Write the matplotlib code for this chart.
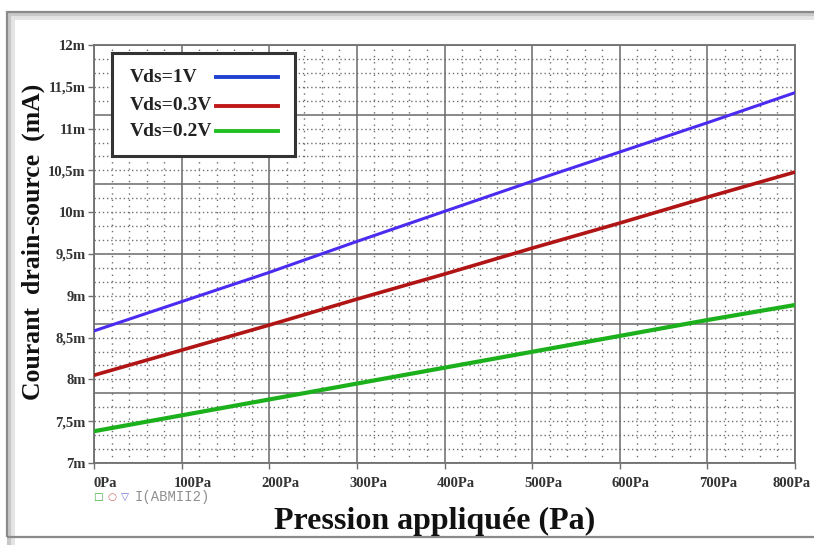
import numpy as np
import matplotlib.pyplot as plt
from matplotlib.patches import Rectangle
from matplotlib.lines import Line2D

# pressure sweep (Pa) and drain-source current (mA) for three Vds values
pression = [0, 100, 200, 300, 400, 500, 600, 700, 800]
i_vds_1v = [8.58, 8.93, 9.28, 9.65, 10.01, 10.37, 10.72, 11.07, 11.43]
i_vds_03v = [8.05, 8.35, 8.65, 8.96, 9.26, 9.57, 9.87, 10.18, 10.48]
i_vds_02v = [7.38, 7.57, 7.76, 7.95, 8.14, 8.33, 8.52, 8.71, 8.89]

y_ticks = [7, 7.5, 8, 8.5, 9, 9.5, 10, 10.5, 11, 11.5, 12]
y_labels = ["7m", "7,5m", "8m", "8,5m", "9m", "9,5m", "10m", "10,5m", "11m", "11,5m", "12m"]
x_ticks = [0, 100, 200, 300, 400, 500, 600, 700, 800]
x_labels = ["0Pa", "100Pa", "200Pa", "300Pa", "400Pa", "500Pa", "600Pa", "700Pa", "800Pa"]

serif = "Liberation Serif"

fig = plt.figure(figsize=(8.14, 5.45), dpi=100)
fig.patch.set_facecolor("white")

# outer frame with a soft shadow
for off, c, lw in [(4, "#e4e4e4", 5), (2, "#c8c8c8", 3)]:
    fig.patches.append(Rectangle((7 / 814 + off / 814, -0.02), 1.0, 1 - 12 / 545 + 0.02 - off / 545,
                                 transform=fig.transFigure, fill=False, edgecolor=c, lw=lw))
fig.patches.append(Rectangle((7 / 814, 8 / 545), 1.0, 1 - 20 / 545,
                             transform=fig.transFigure, fill=False, edgecolor="#8a8a8a", lw=1.6))

ax = fig.add_axes([94 / 814, 82 / 545, 701 / 814, 418 / 545])
ax.set_xlim(0, 800)
ax.set_ylim(7, 12)

# grid: solid major lines, dotted minor lines
for xv in np.arange(0, 801, 20):
    if xv % 100 == 0:
        ax.axvline(xv, color="#6a6a6a", lw=1.1, zorder=1)
    else:
        ax.axvline(xv, color="#6e6e6e", lw=1.0, ls=(0, (1, 3.5)), zorder=1)
h_minor = np.linspace(7, 12, 31)
for k, yv in enumerate(h_minor):
    if k % 5 == 0:
        ax.axhline(yv, color="#6a6a6a", lw=1.1, zorder=1)
    else:
        ax.axhline(yv, color="#6e6e6e", lw=1.0, ls=(0, (1, 2)), zorder=1)

ax.plot(pression, i_vds_1v, color="#4a2cf0", lw=2.2, zorder=3)
ax.plot(pression, i_vds_03v, color="#b01414", lw=2.6, zorder=3)
ax.plot(pression, i_vds_02v, color="#1cb01c", lw=3.0, zorder=3)

for s in ax.spines.values():
    s.set_color("#707070")
    s.set_linewidth(1.3)

ax.set_yticks(y_ticks)
ax.set_yticklabels(y_labels, fontfamily=serif, fontweight="bold", fontsize=10.5, color="#333333")
ax.set_xticks(x_ticks)
ax.set_xticklabels([])
ax.tick_params(axis="y", length=4, width=1, color="#707070", pad=2)
ax.tick_params(axis="x", length=4, width=1, color="#707070")
for xv, lab in zip(x_ticks, x_labels):
    if xv == x_ticks[-1]:
        ax.annotate(lab, xy=(1.0, 0.0), xycoords="axes fraction", xytext=(11, -10),
                    textcoords="offset points", ha="right", va="top", fontfamily=serif,
                    fontweight="bold", fontsize=10.5, color="#333333", annotation_clip=False)
    else:
        ax.annotate(lab, xy=(xv, 7), xycoords="data", xytext=(8, -10), textcoords="offset points",
                    ha="center", va="top", fontfamily=serif, fontweight="bold", fontsize=10.5,
                    color="#333333", annotation_clip=False)

# legend box
leg_ax = fig.add_axes([112 / 814, 1 - 156 / 545, 183 / 814, 103 / 545])
leg_ax.set_xlim(0, 183)
leg_ax.set_ylim(103, 0)
leg_ax.set_xticks([])
leg_ax.set_yticks([])
leg_ax.set_facecolor("white")
for s in leg_ax.spines.values():
    s.set_color("#333333")
    s.set_linewidth(2.2)
legend_entries = [("Vds=1V", "#2040d0", 24), ("Vds=0.3V", "#c01818", 53), ("Vds=0.2V", "#20c020", 78)]
for lab, col, yy in legend_entries:
    leg_ax.text(18, yy, lab, fontfamily=serif, fontweight="bold", fontsize=14,
                color="#222222", va="center", ha="left")
    leg_ax.add_line(Line2D([104, 166], [yy, yy], color=col, lw=2.8))

# trace names under the plot
fig.text(93 / 814, 1 - 497 / 545, "\u25a1", color="#40b040", fontsize=7.5, va="center")
fig.text(107 / 814, 1 - 497 / 545, "\u25cb", color="#d07070", fontsize=7.5, va="center")
fig.text(121 / 814, 1 - 497 / 545, "\u25bd", color="#7070d0", fontsize=7.5, va="center")
fig.text(135 / 814, 1 - 497 / 545, "I(ABMII2)", color="#909090", fontsize=10,
         fontfamily="Liberation Mono", va="center")

fig.text(435 / 814, 1 - 521 / 545, "Pression appliquée (Pa)", fontfamily=serif,
         fontweight="bold", fontsize=23, ha="center", va="center", color="#111111")
fig.text(33 / 814, 1 - 242 / 545, "Courant  drain-source  (mA)", fontfamily=serif,
         fontweight="bold", fontsize=18.5, ha="center", va="center", rotation=90, color="#111111")

fig.savefig("out.png", dpi=100)
